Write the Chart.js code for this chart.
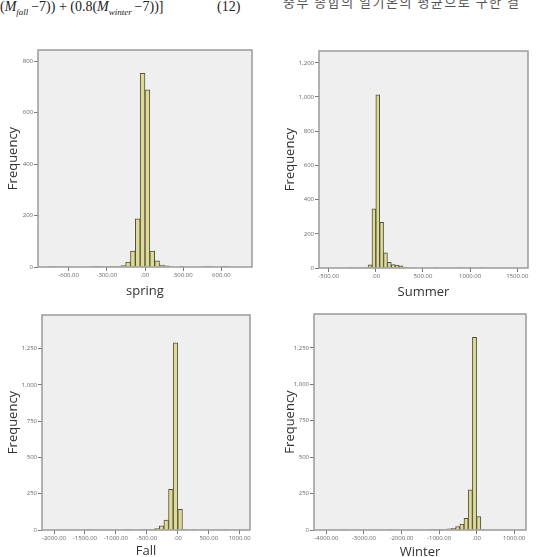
<!DOCTYPE html>
<html>
<head>
<meta charset="utf-8">
<script src="https://cdn.jsdelivr.net/npm/chart.js@4.4.1/dist/chart.umd.min.js"></script>
<style>
  body { margin: 0; background: #fff; width: 537px; height: 557px; overflow: hidden; position: relative; }
  .cv { position: absolute; }
  .formula { position: absolute; left: 0; top: -1px; font: 14px "Liberation Serif", serif; color: #222; white-space: nowrap; }
  .formula sub { font-size: 9px; }
  .eqno { position: absolute; left: 217px; top: -1px; font: 14px "Liberation Serif", serif; color: #222; }
  .korean { position: absolute; left: 283px; top: -8px; font: 13px "Noto Sans CJK KR", sans-serif; color: #555; white-space: nowrap; letter-spacing: 1.5px; }
</style>
</head>
<body>
<div class="formula">(<i>M</i><sub><i>fall</i></sub>&thinsp;−7)) + (0.8(<i>M</i><sub><i>winter</i></sub>&thinsp;−7))]</div>
<div class="eqno">(12)</div>
<div class="korean">중부 종합의 일기온의 평균으로 구한 결</div>

<canvas id="spring" class="cv" width="268" height="262" style="left:0;top:40px"></canvas>
<canvas id="summer" class="cv" width="267" height="262" style="left:270px;top:40px"></canvas>
<canvas id="fall" class="cv" width="268" height="255" style="left:0;top:302px"></canvas>
<canvas id="winter" class="cv" width="267" height="255" style="left:270px;top:302px"></canvas>

<script>
// bin centres and frequencies
const springBins = [-741, -703, -399, -361, -285, -247, -209, -171, -133, -95, -57, -19, 19, 57, 95, 133, 171, 209, 285, 475, 513, 627];
const springCounts = [1, 1, 1, 1, 1, 1, 2, 6, 19, 62, 187, 752, 688, 62, 24, 7, 5, 2, 1, 1, 1, 1];
const springXTicks = [-600, -300, 0, 300, 600];
const springYTicks = [0, 200, 400, 600, 800];

const summerBins = [-266.5, -184.5, -143.5, -102.5, -61.5, -20.5, 20.5, 61.5, 102.5, 143.5, 184.5, 225.5, 266.5, 307.5, 348.5, 635.5, 881.5, 1004.5, 1127.5];
const summerCounts = [1, 1, 3, 4, 18, 346, 1012, 267, 88, 33, 20, 17, 12, 6, 3, 1, 1, 1, 1];
const summerXTicks = [-500, 0, 500, 1000, 1500];
const summerYTicks = [0, 200, 400, 600, 800, 1000, 1200];

const fallBins = [-1462.5, -1387.5, -862.5, -787.5, -562.5, -487.5, -412.5, -337.5, -262.5, -187.5, -112.5, -37.5, 37.5, 112.5, 262.5, 787.5];
const fallCounts = [1, 1, 1, 2, 1, 3, 5, 10, 28, 69, 280, 1290, 142, 3, 1, 2];
const fallXTicks = [-2000, -1500, -1000, -500, 0, 500, 1000];
const fallYTicks = [0, 250, 500, 750, 1000, 1250];

const winterBins = [-3528, -2296, -1288, -1176, -1064, -952, -840, -728, -616, -504, -392, -280, -168, -56, 56, 168];
const winterCounts = [1, 2, 1, 1, 2, 3, 5, 8, 12, 23, 41, 80, 275, 1323, 92, 4];
const winterXTicks = [-4000, -3000, -2000, -1000, 0, 1000];
const winterYTicks = [0, 250, 500, 750, 1000, 1250];

Chart.defaults.font.family = "'Open Sans', 'Noto Sans', sans-serif";
Chart.defaults.animation = false;

const plotFrame = {
  id: "plotFrame",
  beforeDraw(chart) {
    const { ctx, chartArea: a } = chart;
    ctx.save();
    ctx.fillStyle = "#efefef";
    ctx.fillRect(a.left, a.top, a.right - a.left, a.bottom - a.top);
    ctx.restore();
  },
  afterDatasetsDraw(chart) {
    const { ctx, chartArea: a } = chart;
    ctx.save();
    ctx.strokeStyle = "#9a9a9a";
    ctx.lineWidth = 1.5;
    ctx.strokeRect(a.left, a.top, a.right - a.left, a.bottom - a.top);
    ctx.restore();
  },
};

function fmtX(v) {
  return v === 0 ? ".00" : v.toFixed(2);
}

function makeHist(id, bins, counts, xTicks, yTicks, o) {
  const points = bins.map((b, i) => ({ x: b, y: counts[i] }));
  new Chart(document.getElementById(id), {
    type: "bar",
    data: {
      datasets: [
        {
          data: points,
          backgroundColor: "#ddd99c",
          borderColor: "#55532f",
          borderWidth: 1,
          barPercentage: 1,
          categoryPercentage: 1,
        },
      ],
    },
    options: {
      responsive: false,
      layout: { padding: { top: o.padTop, right: o.padRight, left: 0, bottom: 0 } },
      plugins: { legend: { display: false }, tooltip: { enabled: false } },
      scales: {
        x: {
          type: "linear",
          min: o.xMin,
          max: o.xMax,
          offset: false,
          afterFit: (s) => { s.height = o.xAxisH; },
          afterBuildTicks: (s) => { s.ticks = xTicks.map((v) => ({ value: v })); },
          grid: { drawOnChartArea: false, offset: false, tickLength: 4, color: "#777" },
          border: { display: false },
          ticks: { callback: fmtX, color: "#666", font: { size: 6 }, padding: 1, maxRotation: 0, autoSkip: false },
          title: { display: true, text: o.title, color: "#333", font: { size: 13 }, padding: { top: 0, bottom: o.titleBottom } },
        },
        y: {
          min: 0,
          max: o.yMax,
          afterFit: (s) => { s.width = o.yAxisW; },
          afterBuildTicks: (s) => { s.ticks = yTicks.map((v) => ({ value: v })); },
          grid: { drawOnChartArea: false, tickLength: 4, color: "#777" },
          border: { display: false },
          ticks: { callback: (v) => v.toLocaleString("en-US"), color: "#666", font: { size: 6 }, padding: 1 },
          title: { display: true, text: "Frequency", color: "#333", font: { size: 13 }, padding: { top: o.yTitlePad, bottom: 0 } },
        },
      },
    },
    plugins: [plotFrame],
  });
}

makeHist("spring", springBins, springCounts, springXTicks, springYTicks, {
  title: "spring", xMin: -840, xMax: 840, yMax: 843,
  padTop: 10, padRight: 16, xAxisH: 35, yAxisW: 38, titleBottom: 3, yTitlePad: 5,
});
makeHist("summer", summerBins, summerCounts, summerXTicks, summerYTicks, {
  title: "Summer", xMin: -603, xMax: 1614, yMax: 1269,
  padTop: 11, padRight: 9, xAxisH: 34, yAxisW: 49, titleBottom: 2, yTitlePad: 12,
});
makeHist("fall", fallBins, fallCounts, fallXTicks, fallYTicks, {
  title: "Fall", xMin: -2194, xMax: 1166, yMax: 1481,
  padTop: 13, padRight: 18, xAxisH: 27, yAxisW: 42, titleBottom: -2, yTitlePad: 5,
});
makeHist("winter", winterBins, winterCounts, winterXTicks, winterYTicks, {
  title: "Winter", xMin: -4330, xMax: 1315, yMax: 1483,
  padTop: 12, padRight: 11, xAxisH: 27, yAxisW: 44, titleBottom: -3, yTitlePad: 12,
});
</script>
</body>
</html>
